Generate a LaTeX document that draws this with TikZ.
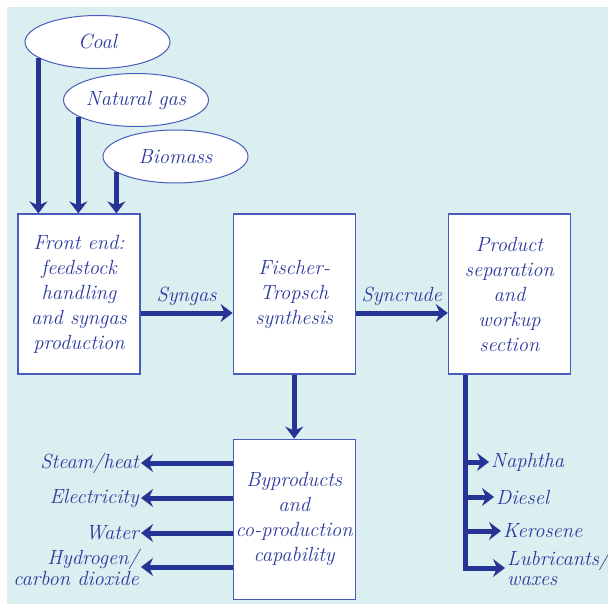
\documentclass[tikz,border=0pt]{standalone}
\usepackage{fontspec}
\usepackage{xcolor}
\usepackage{tikz}
\usetikzlibrary{positioning, arrows.meta, shapes.geometric}
\definecolor{flowblue}{RGB}{38,52,150}
\definecolor{textblue}{RGB}{44,58,158}
\definecolor{edgeblue}{RGB}{72,92,190}
\definecolor{panelblue}{RGB}{219,238,240}

\begin{document}
\begin{tikzpicture}[x=1pt, y=-1pt,
  every node/.style={inner sep=2pt, text=textblue, font=\fontsize{20.5}{25}\selectfont\itshape},
  procbox/.style={draw=edgeblue, line width=1.2pt, fill=white, align=center,
    minimum width=122pt, minimum height=160pt},
  feed/.style={ellipse, draw=edgeblue, line width=1pt, fill=white, inner sep=0pt,
    minimum width=145pt, minimum height=53pt},
  lbl/.style={inner sep=2pt},
  flow/.style={-{Stealth[length=12pt, width=18pt, inset=4pt]}, flowblue, line width=5pt},
  trunk/.style={flowblue, line width=5pt}]
\useasboundingbox (0,0) rectangle (608,604);
\fill[white] (0,0) rectangle (608,604);
\fill[panelblue] (7,7) rectangle (608,604);

% feedstocks
\node[feed] (coal) at (97.5,42) {Coal};
\node[feed] (gas) at (136,100) {Natural gas};
\node[feed] (bio) at (175.5,156.5) {Biomass};

% process chain
\node[procbox] (front) at (79,294) {Front end:\\feedstock\\handling\\and syngas\\production};
\node[procbox, right=92pt of front] (ft) {Fischer-\\Tropsch\\synthesis};
\node[procbox, right=92pt of ft] (prod) {Product\\separation\\and\\workup\\section};
\node[procbox, below=64pt of ft] (byp) {Byproducts\\and\\co-production\\capability};

\draw[flow] (coal.-165.2) -- (coal.-165.2 |- front.north);
\draw[flow] (gas.-164.2) -- (gas.-164.2 |- front.north);
\draw[flow] (bio.-165.1) -- (bio.-165.1 |- front.north);

\draw[flow] ([yshift=-19pt]front.east) -- node[above=3pt] (syngas) {Syngas} ([yshift=-19pt]ft.west);
\draw[flow] ([yshift=-19pt]ft.east) -- node[above=3pt] (syncrude) {Syncrude} ([yshift=-19pt]prod.west);
\draw[flow] (ft) -- (byp);

% byproducts
\node[lbl, anchor=east] (steam) at (141,463) {Steam/heat};
\node[lbl, anchor=east] (elec) at (141,498) {Electricity};
\node[lbl, anchor=east] (water) at (141,533) {Water};
\node[lbl, anchor=east, align=right, font=\fontsize{20.5}{21}\selectfont\itshape] (hydro) at (141,567) {Hydrogen/\\carbon dioxide};
\foreach \out in {steam, elec, water, hydro}
  \draw[flow] (byp.west |- \out) -- (\out.east);

% products
\coordinate (split) at ([xshift=-43.5pt]prod.south);
\node[lbl, anchor=west] (naph) at (489,462) {Naphtha};
\node[lbl, anchor=west] (diesel) at (494,497) {Diesel};
\node[lbl, anchor=west] (kero) at (501,531) {Kerosene};
\node[lbl, anchor=west, align=left, font=\fontsize{20.5}{20}\selectfont\itshape] (lube) at (505,568) {Lubricants/\\waxes};
\draw[flow] (split) |- (lube.west);
\foreach \out in {naph, diesel, kero}
  \draw[flow] (split |- \out) -- (\out.west);
\end{tikzpicture}
\end{document}
